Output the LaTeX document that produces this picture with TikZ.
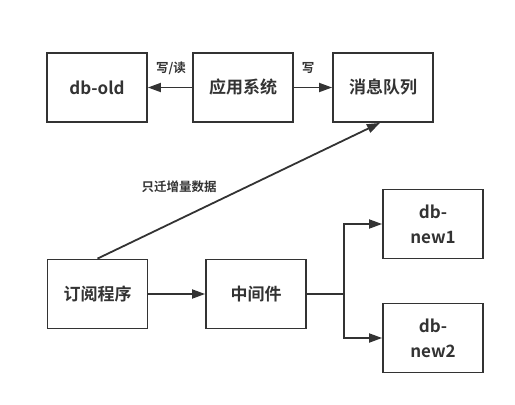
\documentclass[tikz,border=0pt]{standalone}
\usepackage{fontspec}
\setmainfont{Noto Sans CJK SC}[BoldFont={Noto Sans CJK SC Bold}]
\usetikzlibrary{arrows.meta}
\definecolor{ink}{HTML}{333333}
\tikzset{
  box/.style={draw=ink, line width=1.8pt, minimum width=100pt, minimum height=69pt, inner sep=0pt, align=center, text=ink, font=\fontsize{17}{25}\selectfont\bfseries},
  lbl/.style={text=ink, inner sep=0pt, font=\fontsize{12.5}{14}\selectfont\bfseries},
  arr/.style={draw=ink, line width=1.8pt, -{Triangle[length=13pt,width=9pt]}},
  ln/.style={draw=ink, line width=1.8pt}
}
\begin{document}
\begin{tikzpicture}[x=1pt,y=-1pt]
\useasboundingbox (0,0) rectangle (515,405);
\node[box] (dbold) at (97,87.5) {db-old};
\node[box] (app) at (243,87.5) {应用系统};
\node[box] (mq) at (383,87.5) {消息队列};
\node[box] (sub) at (97.5,294) {订阅程序};
\node[box] (mid) at (256,294) {中间件};
\node[box] (n1) at (433,224) {db-\\new1};
\node[box] (n2) at (433,338) {db-\\new2};
\coordinate (br) at (344,294);
\draw[arr] (app.west) -- (dbold.east);
\draw[arr] (app.east) -- (mq.west);
\draw[arr] (sub.north) -- ([xshift=-3pt]mq.south);
\draw[arr] (sub.east) -- (mid.west);
\draw[ln] (mid.east) -- (br);
\draw[arr] (br) |- (n1.west);
\draw[arr] (br) |- (n2.west);
\node[lbl] (l1) at (171,68) {写/读};
\node[lbl] (l2) at (308,68) {写};
\node[lbl] (l3) at (179,187) {只迁增量数据};
\end{tikzpicture}
\end{document}
